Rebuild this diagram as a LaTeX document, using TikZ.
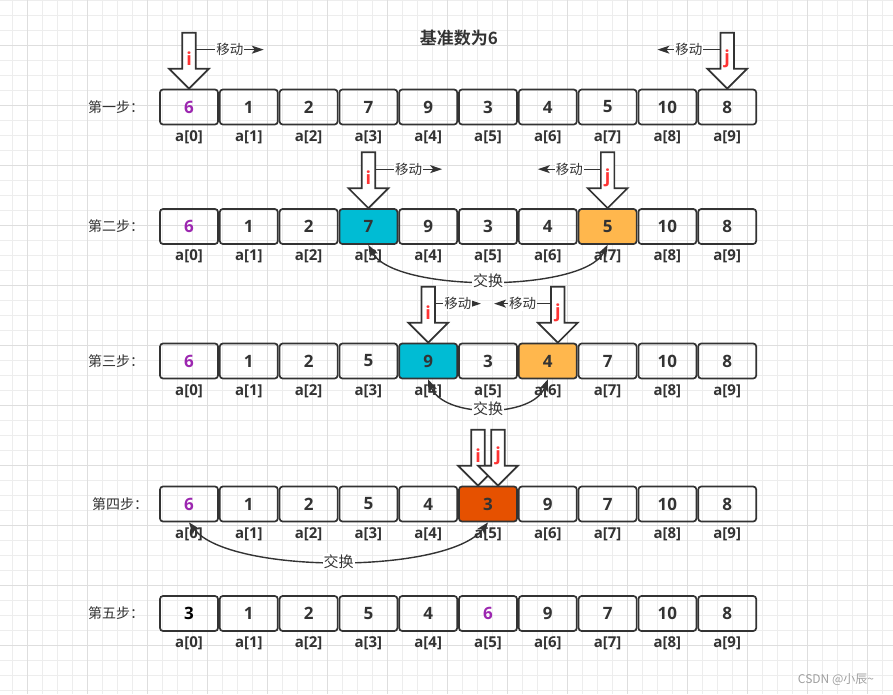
\documentclass[tikz,border=0pt]{standalone}
\usepackage{fontspec}
\setmainfont{Open Sans}
\newfontfamily\cjk{Noto Sans CJK SC}[BoldFont=Noto Sans CJK SC Bold]
\usetikzlibrary{arrows.meta,positioning}

\definecolor{ink}{HTML}{333333}
\definecolor{gridminor}{HTML}{EDEDED}
\definecolor{gridmajor}{HTML}{DEDEDE}
\definecolor{pivot}{HTML}{9C27B0}
\definecolor{ptrred}{HTML}{FF3333}
\definecolor{cyanbox}{HTML}{00BCD4}
\definecolor{orangebox}{HTML}{FFB74D}
\definecolor{swapbox}{HTML}{E65100}

\tikzset{
  cell/.style={draw=ink, line width=1.7pt, rounded corners=3pt, minimum width=58pt,
    minimum height=35pt, inner sep=0pt, text=ink, font=\fontsize{17}{17}\selectfont\bfseries},
  pv/.style={text=pivot}, bk/.style={text=black}, pl/.style={},
  cy/.style={fill=cyanbox}, og/.style={fill=orangebox}, sw/.style={fill=swapbox},
  idx/.style={text=ink, inner sep=0pt, font=\fontsize{15}{15}\selectfont\bfseries},
  steplbl/.style={anchor=west, inner sep=0pt, text=ink, font=\fontsize{14}{14}\selectfont\cjk},
  ptrshape/.style={draw=ink, fill=white, line width=1.7pt, line join=miter},
  ptrtext/.style={text=ptrred, font=\fontsize{18}{18}\selectfont\bfseries},
  move/.style={draw=ink, line width=1.3pt, -{Stealth[length=12pt,width=8pt,inset=3pt]}},
  movetext/.style={fill=white, inner sep=1pt, text=ink, font=\fontsize{13.5}{13.5}\selectfont\cjk},
  swap/.style={draw=ink, line width=1.4pt,
    {Stealth[length=12pt,width=9pt,inset=3pt]}-{Stealth[length=12pt,width=9pt,inset=3pt]}},
  swaptext/.style={fill=white, inner sep=1pt, text=ink, font=\fontsize{15}{15}\selectfont\cjk},
  ptr/.pic={
    \draw[ptrshape] (-6.75,-56) -- (-6.75,-20) -- (-20,-20) -- (0,0) -- (20,-20)
      -- (6.75,-20) -- (6.75,-56) -- cycle;
    \node[ptrtext] at (0,-30) {#1};
    \coordinate (-l) at (-6.75,-39);
    \coordinate (-r) at (6.75,-39);
  }
}

\begin{document}
\begin{tikzpicture}[x=1pt,y=-1pt]
\useasboundingbox (0,0) rectangle (893,694);

% Grid
\foreach \x in {12.3,27.3,...,893} \draw[gridminor, line width=1pt] (\x,0) -- (\x,694);
\foreach \y in {0,15,...,690} \draw[gridminor, line width=1pt] (0,\y) -- (893,\y);
\foreach \x in {27.3,87.3,...,893} \draw[gridmajor, line width=1pt] (\x,0) -- (\x,694);
\foreach \y in {45,105,...,690} \draw[gridmajor, line width=1pt] (0,\y) -- (893,\y);

\node[text=ink, font=\fontsize{17}{17}\selectfont\cjk\bfseries] (title) at (459,38) {基准数为6};

% Step 1
\node[steplbl] (s1) at (88,107) {第一步：};
\foreach \v/\s [count=\k from 0] in {6/pv,1/pl,2/pl,7/pl,9/pl,3/pl,4/pl,5/pl,10/pl,8/pl}
  \node[cell,\s] (r1c\k) at ({189+59.8*\k},107) {\v};
\foreach \k in {0,...,9} \node[idx, below=5pt of r1c\k] (r1a\k) {a[\k]};
\pic (p1i) at (r1c0.north) {ptr=i};
\pic (p1j) at (r1c9.north) {ptr=j};
\draw[move] (p1i-r) -- ([xshift=68pt]p1i-r) node[movetext, pos=0.5] (m1i) {移动};
\draw[move] (p1j-l) -- ([xshift=-63pt]p1j-l) node[movetext, pos=0.5] (m1j) {移动};

% Step 2
\node[steplbl] (s2) at (88,226.5) {第二步：};
\foreach \v/\s [count=\k from 0] in {6/pv,1/pl,2/pl,7/cy,9/pl,3/pl,4/pl,5/og,10/pl,8/pl}
  \node[cell,\s] (r2c\k) at ({189+59.8*\k},226.5) {\v};
\foreach \k in {0,...,9} \node[idx, below=5pt of r2c\k] (r2a\k) {a[\k]};
\pic (p2i) at (r2c3.north) {ptr=i};
\pic (p2j) at (r2c7.north) {ptr=j};
\draw[move] (p2i-r) -- ([xshift=67pt]p2i-r) node[movetext, pos=0.5] (m2i) {移动};
\draw[move] (p2j-l) -- ([xshift=-63pt]p2j-l) node[movetext, pos=0.5] (m2j) {移动};
\draw[swap] (r2c3.south) .. controls +(25,48) and +(-25,48) .. (r2c7.south)
  node[swaptext, pos=0.5] (x2) {交换};

% Step 3
\node[steplbl] (s3) at (88,361) {第三步：};
\foreach \v/\s [count=\k from 0] in {6/pv,1/pl,2/pl,5/pl,9/cy,3/pl,4/og,7/pl,10/pl,8/pl}
  \node[cell,\s] (r3c\k) at ({189+59.8*\k},361) {\v};
\foreach \k in {0,...,9} \node[idx, below=5pt of r3c\k] (r3a\k) {a[\k]};
\pic (p3i) at (r3c4.north) {ptr=i};
\pic (p3j) at ([xshift=10pt]r3c6.north) {ptr=j};
\draw[move] (p3i-r) -- ([xshift=46pt]p3i-r) node[movetext, pos=0.5] (m3i) {移动};
\draw[move] (p3j-l) -- ([xshift=-57pt]p3j-l) node[movetext, pos=0.5] (m3j) {移动};
\draw[swap] (r3c4.south) .. controls +(15,39) and +(-15,39) .. (r3c6.south)
  node[swaptext, pos=0.5] (x3) {交换};

% Step 4
\node[steplbl] (s4) at (92,504) {第四步：};
\foreach \v/\s [count=\k from 0] in {6/pv,1/pl,2/pl,5/pl,4/pl,3/sw,9/pl,7/pl,10/pl,8/pl}
  \node[cell,\s] (r4c\k) at ({189+59.8*\k},504) {\v};
\foreach \k in {0,...,9} \node[idx, below=5pt of r4c\k] (r4a\k) {a[\k]};
\pic (p4i) at ([xshift=-10pt]r4c5.north) {ptr=i};
\pic (p4j) at ([xshift=10pt]r4c5.north) {ptr=j};
\draw[swap] (r4c0.south) .. controls +(40,52) and +(-40,52) .. (r4c5.south)
  node[swaptext, pos=0.5] (x4) {交换};

% Step 5
\node[steplbl] (s5) at (88,613.5) {第五步：};
\foreach \v/\s [count=\k from 0] in {3/bk,1/pl,2/pl,5/pl,4/pl,6/pv,9/pl,7/pl,10/pl,8/pl}
  \node[cell,\s] (r5c\k) at ({189+59.8*\k},613.5) {\v};
\foreach \k in {0,...,9} \node[idx, below=5pt of r5c\k] (r5a\k) {a[\k]};

\node[text=gray!75, font=\fontsize{12}{12}\selectfont\cjk] (wm) at (836,680) {CSDN @小辰\textasciitilde};
\end{tikzpicture}
\end{document}
